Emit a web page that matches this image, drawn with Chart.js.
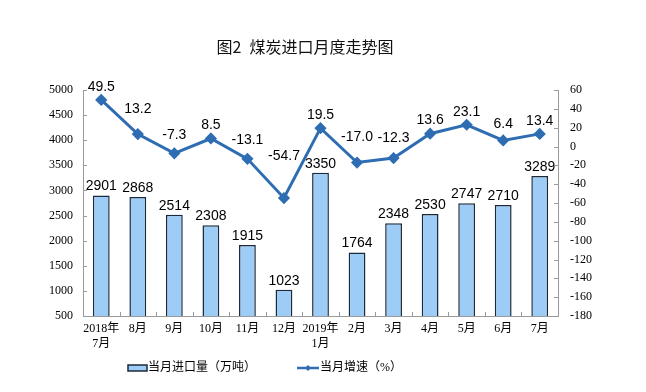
<!DOCTYPE html>
<html>
<head>
<meta charset="utf-8">
<script src="https://cdn.jsdelivr.net/npm/chart.js@4/dist/chart.umd.min.js"></script>
<style>
  body { margin: 0; background: #fff; }
  #wrap { width: 646px; height: 392px; }
</style>
</head>
<body>
<div id="wrap"><canvas id="chart" width="646" height="392"></canvas></div>
<script>
// Data
const months = [['2018年', '7月'], '8月', '9月', '10月', '11月', '12月', ['2019年', '1月'], '2月', '3月', '4月', '5月', '6月', '7月'];
const imports = [2901, 2868, 2514, 2308, 1915, 1023, 3350, 1764, 2348, 2530, 2747, 2710, 3289];
const growth = [49.5, 13.2, -7.3, 8.5, -13.1, -54.7, 19.5, -17.0, -12.3, 13.6, 23.1, 6.4, 13.4];
const titleText = '图2\u2002煤炭进口月度走势图';
const barLabel = '当月进口量（万吨）';
const lineLabel = '当月增速（%）';

const barFill = '#9dcdf6';
const barEdge = '#1b2a3a';
const lineColor = '#2f6db3';
const axisColor = '#9a9a9a';
const serif = "'Liberation Serif', 'Noto Sans CJK SC', serif";
const sans = "'Liberation Sans', Arial, sans-serif";

// label for a line point: lift it until it clears the neighbouring segments
function lineLabelY(pts, i) {
  const p = pts[i];
  const halfW = 17, halfH = 7;
  let cy = p.y - 13;
  [pts[i - 1], pts[i + 1]].forEach(n => {
    if (!n) return;
    const dx = Math.abs(n.x - p.x);
    const yAt = p.y + (n.y - p.y) * Math.min(1, halfW / dx);
    if (cy + halfH > yAt - 2) cy = yAt - 2 - halfH;
  });
  return cy;
}

// inward tick marks on all axes
const ticksPlugin = {
  id: 'innerTicks',
  afterDraw(chart) {
    const ctx = chart.ctx;
    ctx.save();
    ctx.strokeStyle = axisColor;
    ctx.lineWidth = 1;
    ['y', 'y1'].forEach(id => {
      const s = chart.scales[id];
      const x0 = id === 'y' ? s.right : s.left;
      const dir = id === 'y' ? 1 : -1;
      s.ticks.forEach(t => {
        const y = Math.round(s.getPixelForValue(t.value)) + 0.5;
        ctx.beginPath();
        ctx.moveTo(x0, y);
        ctx.lineTo(x0 + dir * 4, y);
        ctx.stroke();
      });
    });
    const xs = chart.scales.x;
    const n = months.length;
    for (let i = 1; i < n; i++) {
      const x = Math.round(xs.left + i * xs.width / n) + 0.5;
      ctx.beginPath();
      ctx.moveTo(x, xs.top);
      ctx.lineTo(x, xs.top - 4);
      ctx.stroke();
    }
    ctx.restore();
  }
};

// Title, value labels and legend
const decorPlugin = {
  id: 'decor',
  afterDatasetsDraw(chart) {
    const ctx = chart.ctx;
    ctx.save();
    ctx.fillStyle = '#000';
    ctx.font = '14px ' + sans;
    ctx.textAlign = 'center';

    // bar values
    ctx.textBaseline = 'bottom';
    chart.getDatasetMeta(0).data.forEach((el, i) => {
      ctx.fillText(imports[i], el.x, el.y - 2);
    });

    // growth values
    ctx.textBaseline = 'middle';
    const pts = chart.getDatasetMeta(1).data;
    pts.forEach((el, i) => {
      ctx.fillText(growth[i].toFixed(1), el.x, lineLabelY(pts, i));
    });

    // title
    ctx.fillStyle = '#111';
    ctx.font = '16px "Noto Sans CJK SC", sans-serif';
    ctx.fillText(titleText, 305, 47);

    // legend
    const ly = 368;
    ctx.fillStyle = barFill;
    ctx.strokeStyle = barEdge;
    ctx.lineWidth = 1.5;
    ctx.fillRect(128, ly - 3, 19, 6);
    ctx.strokeRect(128, ly - 3, 19, 6);
    ctx.fillStyle = '#000';
    ctx.font = '12px ' + serif;
    ctx.textAlign = 'left';
    ctx.fillText(barLabel, 148, ly);

    ctx.strokeStyle = lineColor;
    ctx.lineWidth = 2.5;
    ctx.beginPath();
    ctx.moveTo(297, ly);
    ctx.lineTo(319, ly);
    ctx.stroke();
    ctx.fillStyle = lineColor;
    ctx.beginPath();
    ctx.moveTo(308, ly - 3);
    ctx.lineTo(311, ly);
    ctx.lineTo(308, ly + 3);
    ctx.lineTo(305, ly);
    ctx.closePath();
    ctx.fill();
    ctx.fillStyle = '#000';
    ctx.fillText(lineLabel, 320, ly);
    ctx.restore();
  }
};

new Chart(document.getElementById('chart'), {
  data: {
    labels: months,
    datasets: [
      {
        type: 'bar',
        label: barLabel,
        data: imports,
        yAxisID: 'y',
        backgroundColor: barFill,
        borderColor: barEdge,
        borderWidth: 1.5,
        barPercentage: 0.46,
        categoryPercentage: 1,
        order: 1
      },
      {
        type: 'line',
        label: lineLabel,
        data: growth,
        yAxisID: 'y1',
        borderColor: lineColor,
        backgroundColor: lineColor,
        borderWidth: 3,
        pointStyle: 'rectRot',
        pointRadius: 4,
        tension: 0,
        order: 0
      }
    ]
  },
  options: {
    responsive: false,
    animation: false,
    layout: { padding: { top: 90, left: 0, right: 0, bottom: 0 } },
    plugins: { legend: { display: false }, tooltip: { enabled: false } },
    scales: {
      x: {
        offset: true,
        afterFit: s => { s.height = 76; },
        grid: { offset: true, drawOnChartArea: false, drawTicks: false },
        border: { color: axisColor },
        ticks: { color: '#000', font: { family: serif, size: 12 }, padding: 6, maxRotation: 0, autoSkip: false }
      },
      y: {
        position: 'left',
        min: 500,
        max: 5000,
        afterFit: s => { s.width = 83; },
        grid: { drawOnChartArea: false, drawTicks: false },
        border: { color: axisColor },
        ticks: { stepSize: 500, color: '#000', font: { family: serif, size: 12 }, padding: 10, callback: v => String(v) }
      },
      y1: {
        position: 'right',
        min: -180,
        max: 60,
        afterFit: s => { s.width = 88; },
        grid: { drawOnChartArea: false, drawTicks: false },
        border: { color: axisColor },
        ticks: { stepSize: 20, color: '#000', font: { family: serif, size: 12 }, padding: 12, callback: v => String(v) }
      }
    }
  },
  plugins: [decorPlugin, ticksPlugin]
});
</script>
</body>
</html>
